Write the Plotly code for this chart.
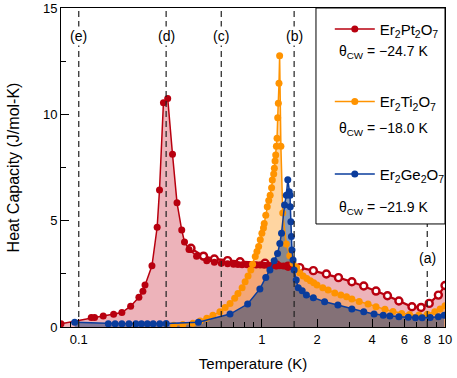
import math
import plotly.graph_objects as go

# Er2Pt2O7, filled symbols (low-T run)
pt_T = [0.08, 0.117, 0.122, 0.136, 0.155, 0.172, 0.192, 0.213, 0.224, 0.230, 0.251, 0.268,
        0.276, 0.290, 0.306, 0.325, 0.344, 0.365, 0.378, 0.40, 0.44, 0.50, 0.55, 0.60,
        0.65, 0.70, 0.74, 0.78, 0.83, 0.88, 0.93, 0.98, 1.03, 1.08, 1.13, 1.19, 1.25,
        1.31, 1.37, 1.43, 1.50]
pt_C = [0.15, 0.45, 0.45, 0.52, 0.60, 0.68, 0.98, 1.40, 1.68, 1.97, 2.88, 4.69,
        6.44, 10.55, 10.75, 8.12, 5.84, 4.56, 4.00, 3.65, 3.33, 3.12, 3.05, 3.00,
        2.97, 2.95, 2.94, 2.93, 2.93, 2.92, 2.92, 2.91, 2.90, 2.90, 2.89, 2.88, 2.88,
        2.87, 2.86, 2.85, 2.84]

# Er2Pt2O7, open symbols (high-T run)
pt2_T = [0.41, 0.48, 0.55, 0.65, 0.76, 1.04, 1.20, 1.39, 1.61, 1.91, 2.25, 2.62, 3.1,
         3.6, 4.2, 4.85, 5.6, 6.6, 7.4, 8.2, 9.2, 10.0]
pt2_C = [3.70, 3.33, 3.20, 3.12, 3.07, 3.00, 2.92, 2.86, 2.79, 2.65, 2.49, 2.32, 2.13,
         1.93, 1.69, 1.47, 1.22, 0.95, 0.92, 1.11, 1.50, 1.95]

# Er2Ti2O7
ti_T = [0.33, 0.37, 0.42, 0.46, 0.50, 0.54, 0.59, 0.63, 0.67, 0.71, 0.74, 0.78, 0.81,
        0.84, 0.87, 0.89, 0.92, 0.94, 0.96, 0.98, 1.00, 1.02, 1.03, 1.05, 1.07, 1.09,
        1.11, 1.13, 1.14, 1.16, 1.17, 1.18, 1.19, 1.20, 1.21, 1.22, 1.23, 1.24, 1.25,
        1.27, 1.30, 1.36, 1.42, 1.48, 1.55, 1.61, 1.68, 1.76, 1.84, 1.92, 2.0, 2.15,
        2.3, 2.5, 2.7, 2.9, 3.1, 3.4, 3.8, 4.2, 4.7, 5.2, 5.8, 6.4, 7.2, 8.0, 8.8,
        9.4, 10.0]
ti_C = [0.08, 0.12, 0.18, 0.28, 0.41, 0.55, 0.72, 0.92, 1.11, 1.35, 1.58, 1.85, 2.13,
        2.40, 2.68, 2.95, 3.31, 3.55, 3.78, 4.10, 4.41, 4.65, 4.87, 5.25, 5.66, 5.95,
        6.20, 6.55, 6.91, 7.20, 7.46, 7.80, 8.09, 8.50, 8.87, 9.84, 10.52, 11.46, 12.76,
        8.50, 5.36, 3.90, 3.35, 3.00, 2.80, 2.55, 2.40, 2.28, 2.17, 2.08, 1.98, 1.85,
        1.74, 1.60, 1.50, 1.42, 1.32, 1.20, 1.08, 0.95, 0.83, 0.73, 0.64, 0.59, 0.56,
        0.60, 0.72, 0.85, 1.00]

# Er2Ge2O7
ge_T = [0.095, 0.145, 0.158, 0.172, 0.188, 0.205, 0.22, 0.237, 0.255, 0.277, 0.30,
        0.45, 0.67, 0.836, 0.975, 1.05, 1.106, 1.167, 1.218, 1.253, 1.28, 1.33, 1.36,
        1.385, 1.41, 1.425, 1.43, 1.44, 1.45, 1.46, 1.48, 1.50, 1.54, 1.58, 1.66,
        1.75, 1.91, 2.2, 2.6, 3.1, 3.6, 4.1, 4.6, 5.0, 5.6, 6.3, 6.9, 7.5, 8.3, 9.2, 9.9]
ge_C = [0.22, 0.15, 0.15, 0.15, 0.15, 0.15, 0.15, 0.15, 0.15, 0.15, 0.16,
        0.22, 0.61, 1.08, 1.79, 2.33, 2.68, 3.12, 3.46, 3.93, 4.41, 5.74, 6.20,
        6.92, 6.36, 6.20, 5.66, 4.95, 4.25, 3.62, 3.15, 2.68, 2.21, 1.85, 1.70,
        1.50, 1.38, 1.19, 1.03, 0.85, 0.72, 0.61, 0.55, 0.52, 0.48, 0.46, 0.44,
        0.44, 0.45, 0.48, 0.55]

names = ['Er<sub>2</sub>Pt<sub>2</sub>O<sub>7</sub>',
         'Er<sub>2</sub>Ti<sub>2</sub>O<sub>7</sub>',
         'Er<sub>2</sub>Ge<sub>2</sub>O<sub>7</sub>']
theta_cw = ['\u221224.7', '\u221218.0', '\u221221.9']

cut_T = [0.1, 0.3, 0.6, 1.5, 8.0]
cut_labels = ['(e)', '(d)', '(c)', '(b)', '(a)']

RED = '#B8000F'
ORANGE = '#FF9300'
BLUE = '#0A3C9C'

fig = go.Figure()

# red fill envelope: low-T filled points then the open-symbol run
fill_T = [t for t in pt_T if t < 0.4] + pt2_T
fill_C = [c for t, c in zip(pt_T, pt_C) if t < 0.4] + pt2_C

fig.add_trace(go.Scatter(x=fill_T, y=fill_C, mode='lines', line=dict(width=0),
                         fill='tozeroy', fillcolor='rgba(200,20,40,0.32)',
                         showlegend=False, hoverinfo='skip'))
fig.add_trace(go.Scatter(x=ti_T, y=ti_C, mode='lines', line=dict(width=0),
                         fill='tozeroy', fillcolor='rgba(255,150,20,0.40)',
                         showlegend=False, hoverinfo='skip'))
fig.add_trace(go.Scatter(x=ge_T, y=ge_C, mode='lines', line=dict(width=0),
                         fill='tozeroy', fillcolor='rgba(20,60,120,0.50)',
                         showlegend=False, hoverinfo='skip'))

# data lines and markers
fig.add_trace(go.Scatter(x=pt2_T, y=pt2_C, mode='lines+markers',
                         line=dict(color=RED, width=2.2),
                         marker=dict(size=7, color='white', line=dict(color=RED, width=2.4)),
                         showlegend=False))
fig.add_trace(go.Scatter(x=pt_T, y=pt_C, mode='lines+markers', name=names[0],
                         legendgroup='pt', line=dict(color=RED, width=1.5),
                         marker=dict(size=7, color=RED)))
fig.add_trace(go.Scatter(x=ti_T, y=ti_C, mode='lines+markers', name=names[1],
                         legendgroup='ti', line=dict(color=ORANGE, width=1.5),
                         marker=dict(size=7, color=ORANGE)))
fig.add_trace(go.Scatter(x=ge_T, y=ge_C, mode='lines+markers', name=names[2],
                         legendgroup='ge', line=dict(color=BLUE, width=1.5),
                         marker=dict(size=7, color=BLUE)))

# dashed marker lines and their labels (annotation x on a log axis is log10)
for t, lab in zip(cut_T, cut_labels):
    fig.add_shape(type='line', xref='x', yref='paper', x0=t, x1=t, y0=0, y1=1,
                  line=dict(color='#222222', width=1.2, dash='6px,4px'), layer='above')
    fig.add_annotation(x=math.log10(t), xref='x', y=0.216 if lab == '(a)' else 0.913,
                       yref='paper', text=lab, showarrow=False, bgcolor='white',
                       xanchor='center', yanchor='middle',
                       font=dict(size=14, color='black'))

# legend box
fig.add_shape(type='rect', xref='paper', yref='paper', x0=0.664, x1=1, y0=0.323, y1=1,
              line=dict(color='black', width=1), fillcolor='white', layer='above')
for i, th in enumerate(theta_cw):
    fig.add_annotation(x=0.719, xref='paper', y=[0.862, 0.621, 0.373][i], yref='paper',
                       text='\u03b8<sub>CW</sub> = ' + th + ' K', showarrow=False,
                       xanchor='left', yanchor='middle',
                       font=dict(size=14, color='black'))

fig.update_layout(
    width=457, height=378,
    margin=dict(l=61, r=12, t=8, b=51, autoexpand=False),
    plot_bgcolor='white', paper_bgcolor='white',
    font=dict(family='Liberation Sans, Arial, sans-serif', color='black'),
    showlegend=True,
    legend=dict(x=0.70, y=0.985, xanchor='left', yanchor='top',
                bgcolor='rgba(0,0,0,0)', borderwidth=0,
                font=dict(size=15), tracegroupgap=50, itemwidth=40),
    xaxis=dict(type='log', range=[-1.097, 1.0], automargin=False,
               tickvals=[0.1, 1, 2, 4, 6, 8, 10],
               ticktext=['0.1', '1', '2', '4', '6', '8', '10'],
               ticks='inside', ticklen=8, tickcolor='black', tickfont=dict(size=13),
               minor=dict(tickvals=[0.09, 0.2, 0.3, 0.4, 0.5, 0.6, 0.7, 0.8, 0.9, 3, 5, 7, 9],
                          ticks='inside', ticklen=5, tickcolor='black'),
               showline=True, linecolor='black', linewidth=1, mirror=True,
               showgrid=False, zeroline=False,
               title=dict(text='Temperature (K)', font=dict(size=15), standoff=12)),
    yaxis=dict(range=[0, 15], tickvals=[0, 5, 10, 15], automargin=False,
               ticks='inside', ticklen=8, tickcolor='black', tickfont=dict(size=13),
               minor=dict(tickvals=[2.5, 7.5, 12.5], ticks='inside', ticklen=5,
                          tickcolor='black'),
               showline=True, linecolor='black', linewidth=1, mirror=True,
               showgrid=False, zeroline=False,
               title=dict(text='Heat Capacity (J/mol-K)', font=dict(size=16), standoff=19)),
)

fig.write_html("out.html", config={'displayModeBar': False},
               post_script="document.body.style.margin='0px';")
